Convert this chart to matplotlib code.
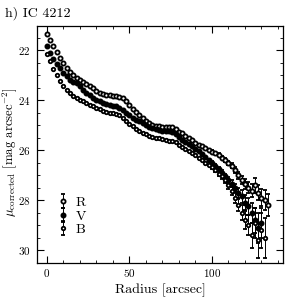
import matplotlib
matplotlib.use('Agg')
import matplotlib.pyplot as plt
from matplotlib.ticker import MultipleLocator

plt.rcParams['font.family'] = 'serif'
plt.rcParams['font.serif'] = ['cmr10', 'DejaVu Serif']
plt.rcParams['mathtext.fontset'] = 'cm'
plt.rcParams['axes.formatter.use_mathtext'] = True

# surface brightness profiles, IC 4212
r_R = list(range(0, 136, 2))
mu_R = [21.37, 21.6, 21.85, 22.08, 22.3, 22.5, 22.7, 22.88, 23.0, 23.1,
        23.2, 23.28, 23.36, 23.45, 23.53, 23.62, 23.7, 23.76, 23.79, 23.8,
        23.82, 23.84, 23.86, 23.92, 24.05, 24.2, 24.35, 24.48, 24.6, 24.72,
        24.82, 24.92, 24.98, 25.02, 25.05, 25.06, 25.07, 25.06, 25.08, 25.17,
        25.26, 25.33, 25.42, 25.5, 25.6, 25.7, 25.78, 25.85, 25.92, 26.0,
        26.06, 26.12, 26.18, 26.3, 26.4, 26.52, 26.62, 26.8, 27.0, 27.2,
        27.35, 27.5, 27.62, 27.4, 27.7, 27.9, 28.0, 28.2]
err_R = [0] * 50 + [0.05, 0.05, 0.06, 0.07, 0.08, 0.09, 0.1, 0.12, 0.14,
                    0.16, 0.2, 0.22, 0.25, 0.3, 0.3, 0.35, 0.4, 0.45]

r_V = list(range(0, 132, 2))
mu_V = [21.84, 22.1, 22.36, 22.55, 22.73, 22.9, 23.05, 23.2, 23.28, 23.3,
        23.45, 23.6, 23.7, 23.8, 23.9, 23.98, 24.05, 24.1, 24.15, 24.2,
        24.22, 24.25, 24.3, 24.4, 24.5, 24.6, 24.7, 24.78, 24.85, 24.92,
        25.0, 25.07, 25.12, 25.17, 25.2, 25.22, 25.24, 25.25, 25.27, 25.35,
        25.48, 25.6, 25.68, 25.75, 25.85, 25.95, 26.05, 26.15, 26.27, 26.4,
        26.5, 26.62, 26.75, 26.9, 27.05, 27.2, 27.35, 27.5, 27.7, 27.85,
        28.1, 28.25, 28.5, 28.8, 29.1, 28.9]
err_V = [0] * 50 + [0.06, 0.07, 0.08, 0.09, 0.1, 0.12, 0.14, 0.16, 0.2,
                    0.25, 0.3, 0.35, 0.4, 0.5, 0.6, 0.6]

r_B = list(range(0, 134, 2))
mu_B = [22.16, 22.45, 22.76, 23.0, 23.25, 23.44, 23.6, 23.72, 23.82, 23.9,
        23.98, 24.05, 24.12, 24.2, 24.24, 24.3, 24.36, 24.42, 24.46, 24.5,
        24.52, 24.55, 24.6, 24.7, 24.82, 24.95, 25.05, 25.15, 25.22, 25.3,
        25.36, 25.42, 25.46, 25.5, 25.52, 25.55, 25.58, 25.62, 25.65, 25.68,
        25.78, 25.88, 25.96, 26.02, 26.1, 26.2, 26.3, 26.4, 26.5, 26.6,
        26.67, 26.8, 26.95, 27.05, 27.2, 27.4, 27.65, 27.9, 28.2, 28.5,
        28.8, 29.0, 29.4, 28.9, 29.6, 29.2, 29.5]
err_B = [0] * 50 + [0.07, 0.08, 0.09, 0.1, 0.12, 0.14, 0.16, 0.2, 0.25,
                    0.3, 0.35, 0.4, 0.5, 0.6, 0.7, 0.7, 0.8]

fig = plt.figure(figsize=(3, 3), dpi=100)
ax = fig.add_axes([0.123, 0.123, 0.82, 0.79])

common = dict(mec='black', mew=1.3, ecolor='black', elinewidth=0.7,
              capsize=1.5, capthick=0.7)
ax.errorbar(r_R, mu_R, yerr=err_R, fmt='o', mfc='white', ms=3.0,
            label='R', **common)
ax.errorbar(r_V, mu_V, yerr=err_V, fmt='o', mfc='black', ms=3.0,
            label='V', **common)
ax.errorbar(r_B, mu_B, yerr=err_B, fmt='o', mfc='white', ms=2.5,
            label='B', **common)

ax.set_xlim(-6, 143)
ax.set_ylim(30.52, 21.04)
ax.xaxis.set_major_locator(MultipleLocator(50))
ax.xaxis.set_minor_locator(MultipleLocator(10))
ax.yaxis.set_major_locator(MultipleLocator(2))
ax.yaxis.set_minor_locator(MultipleLocator(0.5))
ax.tick_params(which='both', direction='in', top=True, right=True,
               labelsize=8)
ax.tick_params(axis='x', pad=3)
ax.tick_params(axis='y', pad=4.5)
ax.tick_params(which='major', length=5, width=0.8)
ax.tick_params(which='minor', length=2.5, width=0.6)
for s in ax.spines.values():
    s.set_linewidth(0.9)

ax.set_xlabel('Radius [arcsec]', fontsize=10)
ax.xaxis.set_label_coords(0.5, -0.085)
ax.set_ylabel(r'$\mu_{\rm corrected}$ [mag arcsec$^{-2}$]', fontsize=9.2)
ax.yaxis.set_label_coords(-0.072, 0.468)
fig.text(0.017, 0.955, 'h) IC 4212', fontsize=10, va='center')

leg = ax.legend(loc='lower left', bbox_to_anchor=(0.06, 0.085), frameon=False,
                fontsize=10, handlelength=0.6, handletextpad=0.6,
                labelspacing=0.05, borderpad=0)

fig.savefig('out.png', dpi=100)
